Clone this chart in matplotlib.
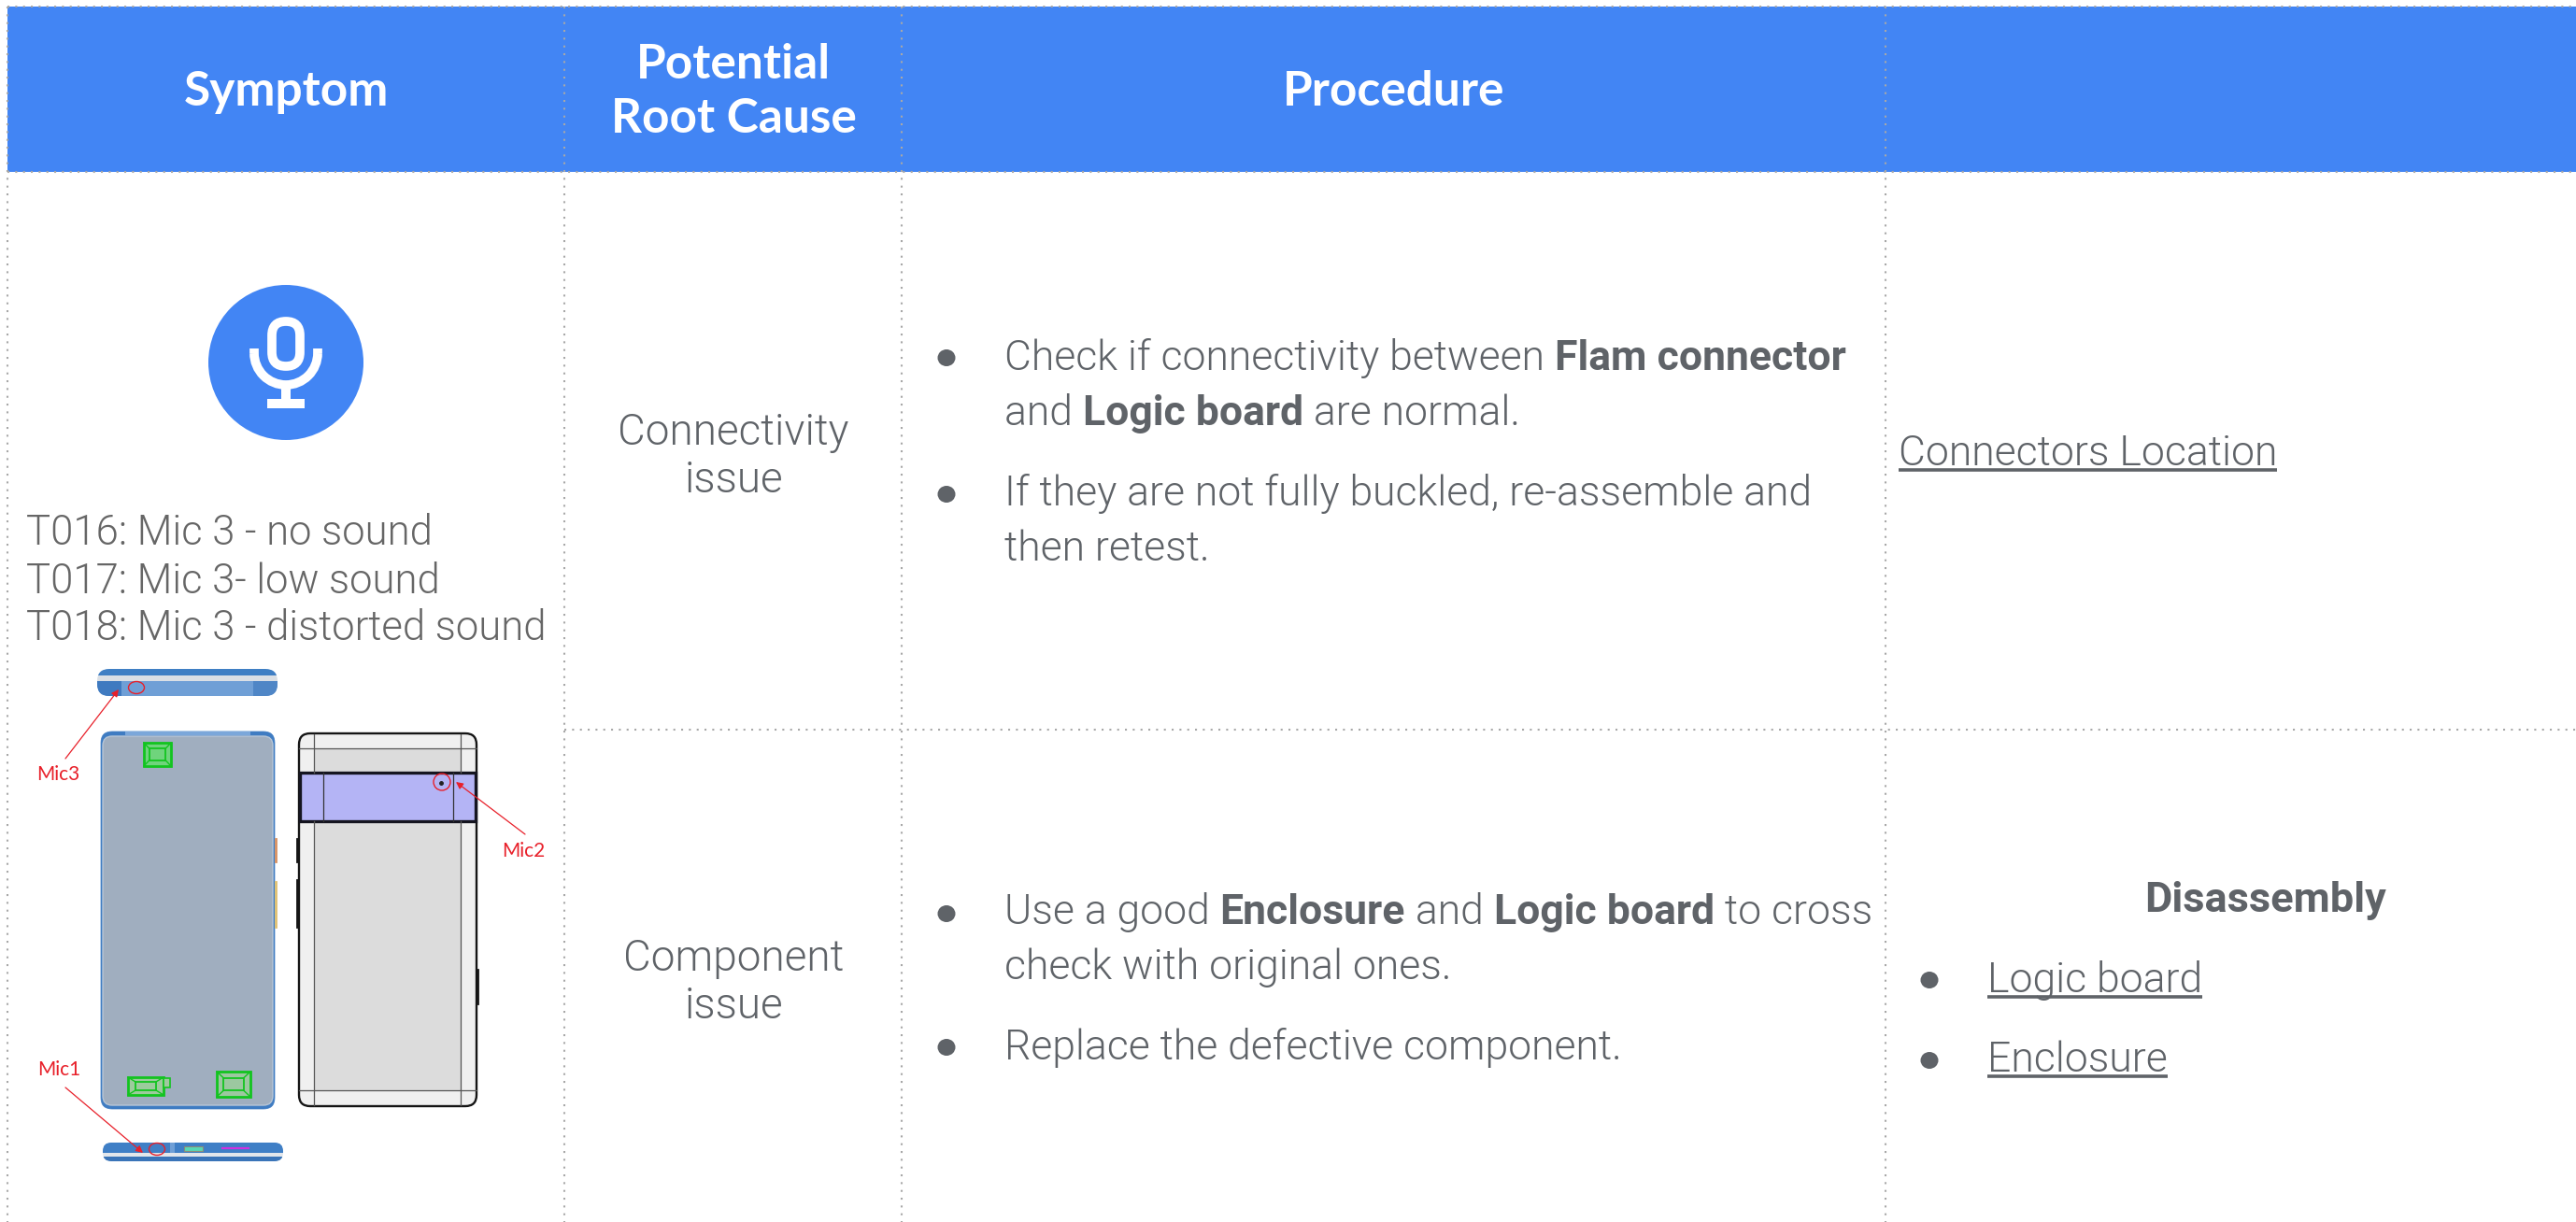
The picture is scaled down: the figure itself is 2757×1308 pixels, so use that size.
"""Troubleshooting table: microphone symptom, root causes and procedures."""

import matplotlib

matplotlib.use("Agg")
import matplotlib.pyplot as plt
from matplotlib.patches import Arc, Circle, Ellipse, FancyBboxPatch, Rectangle

WIDTH = 2757
HEIGHT = 1308
BLUE = "#4285F4"
GREY = "#5F6368"
RED = "#E8202A"
HEAD_FONT = "Lato"
BODY_FONT = "Roboto"
BODY_SIZE = 32
SYMPTOM_SIZE = 31.4
CAUSE_SIZE = 33

HEADERS = [("Symptom", 306, 113), ("Potential", 785, 84), ("Root Cause", 785, 142), ("Procedure", 1492, 113)]
SYMPTOMS = ["T016: Mic 3 - no sound", "T017: Mic 3- low sound", "T018: Mic 3 - distorted sound"]
CAUSES = ["Connectivity", "issue", "Component", "issue"]
PROCEDURE_1 = [
    [("Check if connectivity between ", False), ("Flam connector", True)],
    [("and ", False), ("Logic board", True), (" are normal.", False)],
    [("If they are not fully buckled, re-assemble and", False)],
    [("then retest.", False)],
]
PROCEDURE_2 = [
    [("Use a good ", False), ("Enclosure", True), (" and ", False), ("Logic board", True), (" to cross", False)],
    [("check with original ones.", False)],
    [("Replace the defective component.", False)],
]
LINK_TOP = "Connectors Location"
LINK_TITLE = "Disassembly"
LINKS = ["Logic board", "Enclosure"]
MIC_LABELS = ["Mic3", "Mic2", "Mic1"]

COLUMN_X = [8, 604, 965, 2018]
HEADER_Y = [7, 184]
ROW_Y = 781

fig = plt.figure(figsize=(WIDTH / 100, HEIGHT / 100), dpi=100)
ax = fig.add_axes([0, 0, 1, 1])
ax.set_xlim(0, WIDTH)
ax.set_ylim(HEIGHT, 0)
ax.axis("off")


def dotted(xs, ys, zorder=5):
    ax.plot(xs, ys, color="#A8A8A8", lw=1.5, linestyle=(0, (1, 3)), zorder=zorder,
            dash_capstyle="butt")


def draw_runs(x, y, runs, size=BODY_SIZE):
    """Draw regular and bold pieces one after the other on a baseline."""
    renderer = fig.canvas.get_renderer()
    for label, bold in runs:
        artist = ax.text(x, y, label, fontsize=size, color=GREY, family=BODY_FONT,
                         fontweight="bold" if bold else 300, va="baseline", ha="left")
        x += artist.get_window_extent(renderer).width
    return x


def draw_link(x, y, label):
    end = draw_runs(x, y, [(label, False)])
    ax.plot([x, end], [y + 5, y + 5], color=GREY, lw=2.6, solid_capstyle="butt")


def bullet(x, y):
    ax.add_patch(Ellipse((x, y), 19, 18, color=GREY, lw=0))


def strip(x, y, w, h, bands, caps=()):
    """Phone edge view: coloured bands clipped to a rounded outline."""
    shape = FancyBboxPatch((x, y), w, h, boxstyle="round,pad=0,rounding_size=%d" % (h * 0.48),
                           fc="none", ec="none", lw=0)
    ax.add_patch(shape)
    for top, bottom, colour in bands:
        band = Rectangle((x, top), w, bottom - top, color=colour, lw=0)
        ax.add_patch(band)
        band.set_clip_path(shape)
    for left, right, top, bottom, colour in caps:
        cap = Rectangle((left, top), right - left, bottom - top, color=colour, lw=0)
        ax.add_patch(cap)
        cap.set_clip_path(shape)


def green_box(x, y, w, h, fill):
    ax.add_patch(Rectangle((x, y), w, h, fc=fill, ec="#12C41F", lw=2))
    ax.add_patch(Rectangle((x + w * 0.2, y + h * 0.25), w * 0.6, h * 0.5, fc="none", ec="#12C41F", lw=1.3))
    ax.plot([x, x + w * 0.2], [y, y + h * 0.25], color="#12C41F", lw=1)
    ax.plot([x + w, x + w * 0.8], [y, y + h * 0.25], color="#12C41F", lw=1)
    ax.plot([x, x + w * 0.2], [y + h, y + h * 0.75], color="#12C41F", lw=1)
    ax.plot([x + w, x + w * 0.8], [y + h, y + h * 0.75], color="#12C41F", lw=1)


# header band and table grid
ax.add_patch(Rectangle((COLUMN_X[0], HEADER_Y[0]), WIDTH - COLUMN_X[0], HEADER_Y[1] - HEADER_Y[0],
                       color=BLUE, lw=0, zorder=1))
for x in COLUMN_X:
    dotted([x, x], [HEADER_Y[0], HEIGHT])
for y in HEADER_Y:
    dotted([COLUMN_X[0], WIDTH], [y, y])
dotted([COLUMN_X[1], WIDTH], [ROW_Y, ROW_Y])

for label, x, y in HEADERS:
    ax.text(x, y, label, color="white", fontsize=37, fontweight="bold", family=HEAD_FONT,
            ha="center", va="baseline", zorder=6)

# microphone badge
ax.add_patch(Circle((306, 388), 83, color=BLUE, lw=0))
ax.add_patch(FancyBboxPatch((291, 344), 30, 48, boxstyle="round,pad=0,rounding_size=15",
                            fc="none", ec="white", lw=7))
ax.add_patch(Arc((306, 378), 68, 68, theta1=0, theta2=180, color="white", lw=7))
for x in [272, 340]:
    ax.plot([x, x], [373, 378], color="white", lw=7, solid_capstyle="butt")
ax.add_patch(Rectangle((301, 415), 10, 14, color="white", lw=0))
ax.add_patch(Rectangle((286, 427), 40, 10, color="white", lw=0))

for y, label in zip([583, 635, 685], SYMPTOMS):
    ax.text(28, y, label, color="#666666", fontsize=SYMPTOM_SIZE, family=BODY_FONT, fontweight=300, va="baseline")

# top and bottom edge views of the phone
strip(104, 716, 193, 29, [(716, 723, "#3F7FC4"), (723, 729, "#DADFE5"), (729, 745, "#6F9FD6")],
      [(104, 130, 729, 745, "#3F7AC0"), (271, 297, 729, 745, "#4F86C6")])
strip(110, 1223, 193, 20, [(1223, 1234, "#3F7FC6"), (1234, 1238, "#E2E6EB"), (1238, 1243, "#3A74B8")],
      [(182, 187, 1223, 1234, "#6F9FD6")])
ax.add_patch(Ellipse((146, 736), 17, 13, fc="none", ec=RED, lw=1))
ax.add_patch(Ellipse((168, 1230), 17, 13, fc="none", ec=RED, lw=1))
ax.add_patch(Rectangle((197, 1227), 20, 5, fc="#58D8B4", ec="#8A8A7A", lw=0.8))
ax.plot([238, 266], [1229, 1229], color="#D030E0", lw=1.6)

# left phone, with green component outlines
ax.add_patch(FancyBboxPatch((108, 783), 186, 404, boxstyle="round,pad=0,rounding_size=12",
                            fc="#3F7CC2", ec="#3F7CC2", lw=0.5))
ax.add_patch(FancyBboxPatch((110, 788), 182, 395, boxstyle="round,pad=0,rounding_size=10",
                            fc="#A0AEBF", ec="#B8C6D6", lw=1))
ax.plot([134, 268], [785, 785], color="#7BA7DA", lw=3, solid_capstyle="butt")
green_box(154, 795, 29, 25, "#6FD47C")
green_box(137, 1153, 38, 19, "#9CCB9C")
ax.add_patch(Rectangle((175, 1154), 7, 10, fc="#A0C8A0", ec="#12C41F", lw=1.2))
green_box(232, 1147, 36, 27, "#9CC8A0")
ax.plot([295, 295], [898, 922], color="#D89060", lw=2)
ax.plot([295, 295], [944, 992], color="#E0C070", lw=2)

# right phone
ax.add_patch(FancyBboxPatch((320, 785), 190, 399, boxstyle="round,pad=0,rounding_size=12",
                            fc="#F0F0F0", ec="#151515", lw=1.7, zorder=2))
ax.add_patch(Rectangle((336, 801), 157, 366, fc="#DCDCDC", lw=0, zorder=2))
ax.add_patch(Rectangle((321, 827), 188, 52, fc="#B4B4F5", ec="#151520", lw=2.4, zorder=3))
for x in [336, 493]:
    ax.plot([x, x], [786, 827], color="#555555", lw=0.9, zorder=4)
    ax.plot([x, x], [879, 1183], color="#555555", lw=0.9, zorder=4)
for x in [346, 485]:
    ax.plot([x, x], [827, 879], color="#333333", lw=0.9, zorder=4)
for y in [801, 1167]:
    ax.plot([320, 510], [y, y], color="#555555", lw=0.9, zorder=4)
ax.plot([318, 318], [898, 922], color="#151515", lw=2)
ax.plot([318, 318], [942, 992], color="#151515", lw=2)
ax.plot([511, 511], [1038, 1074], color="#151515", lw=2)
ax.add_patch(Ellipse((473, 837), 18, 18, fc="none", ec=RED, lw=1, zorder=5))
ax.plot([472], [838], marker="o", ms=2.5, color="#222222", zorder=5)

# microphone callouts
for label, x, y in zip(MIC_LABELS, [62, 560, 63], [829, 911, 1145]):
    ax.text(x, y, label, color=RED, fontsize=15, family=HEAD_FONT, ha="center", va="center")
for start, end in [((70, 812), (127, 738)), ((562, 893), (488, 837)), ((70, 1164), (153, 1234))]:
    ax.annotate("", xy=end, xytext=start, zorder=6,
                arrowprops=dict(arrowstyle="-|>", color=RED, lw=0.9, mutation_scale=11, shrinkA=0, shrinkB=0))

# root causes
for y, label in zip([476, 527, 1039, 1090], CAUSES):
    ax.text(785, y, label, color=GREY, fontsize=CAUSE_SIZE, family=BODY_FONT, fontweight=300,
            ha="center", va="baseline")

# procedure bullets
for y, runs in zip([396, 455, 541, 600], PROCEDURE_1):
    draw_runs(1075, y, runs)
for y, runs in zip([989, 1048, 1134], PROCEDURE_2):
    draw_runs(1075, y, runs)
for y in [383, 529, 978, 1121]:
    bullet(1013, y)

# link column
draw_link(2032, 498, LINK_TOP)
ax.text(2425, 976, LINK_TITLE, color=GREY, fontsize=BODY_SIZE + 0.5, fontweight="bold", family=BODY_FONT,
        ha="center", va="baseline")
for bullet_y, base_y, label in zip([1049, 1135], [1062, 1147], LINKS):
    bullet(2065, bullet_y)
    draw_link(2127, base_y, label)

fig.savefig("out.png", dpi=100)
plt.close(fig)
